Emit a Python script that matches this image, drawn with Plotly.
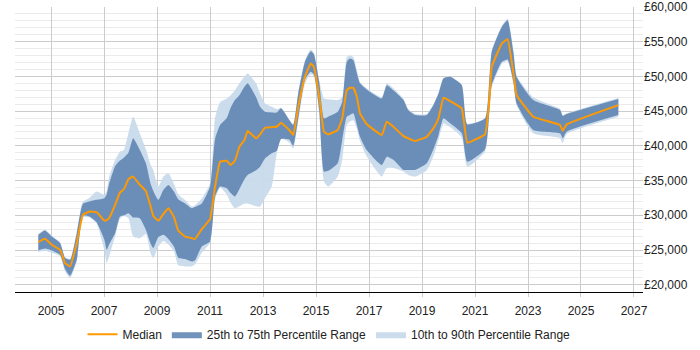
import plotly.graph_objects as go

years = [2004.52, 2004.77, 2005.03, 2005.34, 2005.53, 2005.72, 2005.97, 2006.2, 2006.45, 2006.72,
         2007.01, 2007.1, 2007.19, 2007.42, 2007.6, 2007.75, 2007.92, 2008.1, 2008.35, 2008.58,
         2008.76, 2008.86, 2009.05, 2009.24, 2009.43, 2009.64, 2009.8, 2010.06, 2010.31, 2010.43,
         2010.69, 2011.0, 2011.19, 2011.38, 2011.63, 2011.78, 2011.94, 2012.11, 2012.3, 2012.42,
         2012.74, 2012.89, 2013.08, 2013.33, 2013.52, 2013.68, 2013.99, 2014.14, 2014.33, 2014.58,
         2014.8, 2014.92, 2015.12, 2015.3, 2015.46, 2015.82, 2015.99, 2016.16, 2016.28, 2016.41,
         2016.54, 2016.66, 2016.91, 2017.48, 2017.67, 2017.92, 2018.3, 2018.48, 2018.74, 2019.18,
         2019.43, 2019.62, 2019.81, 2020.06, 2020.5, 2020.71, 2021.38, 2021.54, 2021.63, 2022.01,
         2022.23, 2022.45, 2022.57, 2023.2, 2024.21, 2024.31, 2024.46, 2026.41]

p10 = [24700, 24900, 24600, 24100, 21900, 20960, 23400, 29700, 29700, 28800,
       25000, 23120, 24000, 27000, 29500, 29900, 29600, 26940, 26700, 27300,
       24500, 23830, 25500, 26300, 25800, 24800, 22800, 22640, 22640, 22900,
       24600, 26000, 32300, 34000, 33000, 31800, 31000, 31300, 31700, 31700,
       31300, 31250, 32500, 34130, 38930, 41000, 40500, 39600, 43500, 48900,
       50300, 50000, 44800, 34850, 34130, 35570, 38000, 43000, 43500, 43700,
       42500, 40700, 38500, 35570, 36800, 36800, 36290, 35800, 35570, 36500,
       38500, 40840, 43200, 42700, 41200, 37000, 39200, 44500, 48400, 51800,
       52200, 48800, 45800, 41800, 41100, 40400, 41700, 44200]

p25 = [24930, 25200, 24930, 24310, 22260, 21290, 23590, 29920, 29820, 29000,
       26500, 25030, 25800, 27430, 29820, 30000, 30300, 29680, 29580, 27900,
       25900, 25270, 26860, 27190, 26600, 25500, 23900, 23700, 23350, 23500,
       25500, 26220, 32690, 34130, 33900, 33200, 32700, 33800, 35200, 35800,
       36500, 37000, 38200, 38930, 39300, 41000, 40900, 39980, 43960, 49560,
       50660, 50300, 45150, 36280, 36400, 37490, 40840, 44190, 44430, 44680,
       43000, 41310, 39400, 37250, 38440, 38000, 36530, 36530, 36530, 37490,
       39500, 41500, 43960, 43240, 41800, 37720, 39500, 45000, 48740, 52090,
       52430, 49200, 46110, 42300, 41800, 41080, 42030, 44430]

median = [26140, 26610, 25750, 25030, 23120, 22640, 25990, 30060, 30540, 30450,
          29240, 29300, 29580, 31500, 33270, 33750, 35190, 35570, 34400, 33510,
          31250, 29900, 29200, 30200, 31020, 29730, 27800, 26940, 26710, 26570,
          28000, 29440, 34130, 37720, 37860, 37250, 37860, 39880, 40840, 42130,
          41080, 41660, 42610, 42700, 42750, 43330, 42280, 41560, 45630, 49940,
          51860, 51370, 47060, 42030, 41660, 42280, 43960, 48030, 48360, 48360,
          47060, 44680, 43140, 41560, 43470, 42750, 41410, 41080, 40700, 41310,
          42520, 43960, 46920, 46440, 45400, 40450, 41700, 46590, 51370, 54740,
          55360, 50430, 47310, 44190, 43000, 42180, 43090, 45870]

p75 = [27190, 27800, 26940, 26000, 23830, 23590, 27430, 31640, 31970, 32220,
       32460, 33000, 34500, 37100, 37900, 38300, 39000, 41080, 39400, 37490,
       34500, 33500, 32220, 33650, 34370, 33410, 32300, 31700, 31020, 31200,
       31700, 34130, 41000, 43000, 44000, 45500, 46600, 47300, 48500, 49000,
       47000, 45630, 44900, 44800, 44800, 45400, 43720, 43000, 47550, 52090,
       53630, 53200, 49220, 43960, 44200, 44910, 46340, 52090, 52580, 52340,
       50500, 49000, 48120, 46830, 48740, 48000, 46590, 45150, 44430, 44430,
       45870, 47500, 49710, 49940, 48740, 43090, 43960, 49500, 53540, 57120,
       58080, 53500, 49940, 46590, 45150, 44300, 44580, 46740]

p90 = [27300, 27900, 27050, 26100, 23950, 23700, 27500, 31970, 32500, 33410,
       32940, 33500, 35500, 38000, 39160, 39400, 41800, 44190, 41800, 39500,
       37250, 36500, 34130, 35570, 36050, 34500, 33000, 32200, 31250, 31400,
       32400, 34620, 44000, 46300, 46800, 47300, 48000, 49000, 50000, 50430,
       49000, 47500, 46100, 45630, 45300, 45500, 43800, 43100, 47700, 52300,
       53870, 53400, 49400, 46830, 46700, 46590, 47000, 52800, 53060, 52800,
       51000, 49200, 48300, 47000, 49000, 48300, 46800, 45300, 44600, 44600,
       46000, 47600, 49800, 50000, 48800, 43200, 44000, 50000, 53700, 57300,
       58320, 53700, 50100, 47000, 45300, 44400, 44700, 46900]

x_ticks = list(range(2005, 2028, 2))

DARK = "rgba(93,131,176,0.88)"
LIGHT = "rgba(200,218,236,0.95)"
SM = 0.5

fig = go.Figure()
fig.add_trace(go.Scatter(x=years, y=p10, mode="lines",
                         line=dict(width=0, color=LIGHT, shape="spline", smoothing=SM),
                         showlegend=False, hoverinfo="skip"))
fig.add_trace(go.Scatter(x=years, y=p90, mode="lines",
                         line=dict(width=0, color=LIGHT, shape="spline", smoothing=SM),
                         fill="tonexty", fillcolor=LIGHT, name="10th to 90th Percentile Range"))
fig.add_trace(go.Scatter(x=years, y=p25, mode="lines",
                         line=dict(width=0, color=DARK, shape="spline", smoothing=SM),
                         showlegend=False, hoverinfo="skip"))
fig.add_trace(go.Scatter(x=years, y=p75, mode="lines",
                         line=dict(width=0, color=DARK, shape="spline", smoothing=SM),
                         fill="tonexty", fillcolor=DARK, name="25th to 75th Percentile Range"))
fig.add_trace(go.Scatter(x=years, y=median, mode="lines",
                         line=dict(width=2, color="#FF9900", shape="spline", smoothing=0.3),
                         name="Median"))

fig.update_layout(
    width=700, height=350,
    margin=dict(l=15, r=57, t=7, b=58, autoexpand=False),
    paper_bgcolor="white", plot_bgcolor="white",
    font=dict(family="Liberation Sans, Arial, sans-serif", size=12, color="#222"),
    showlegend=True,
    legend=dict(orientation="h", x=0.5, xanchor="center", y=-0.148, yanchor="middle",
                traceorder="reversed", font=dict(size=12, color="#222")),
    xaxis=dict(range=[2003.64, 2027.34], tickvals=x_ticks, ticktext=[str(t) for t in x_ticks],
               showgrid=True, gridcolor="#cccccc", gridwidth=1, automargin=False,
               showline=True, linecolor="black", linewidth=1,
               ticks="outside", ticklen=4, tickcolor="#cccccc", zeroline=False,
               ticklabelstandoff=4,
               tickfont=dict(size=12, color="#222")),
    yaxis=dict(range=[18950, 60000], side="right", dtick=5000, tick0=20000,
               tickprefix="£", tickformat=",d", automargin=False,
               showgrid=True, gridcolor="#cccccc", gridwidth=1,
               minor=dict(dtick=1000, showgrid=True, gridcolor="#ebebeb", gridwidth=1),
               showline=False, zeroline=False, ticks="",
               tickfont=dict(size=12, color="#222")),
)

fig.write_html("out.html")
